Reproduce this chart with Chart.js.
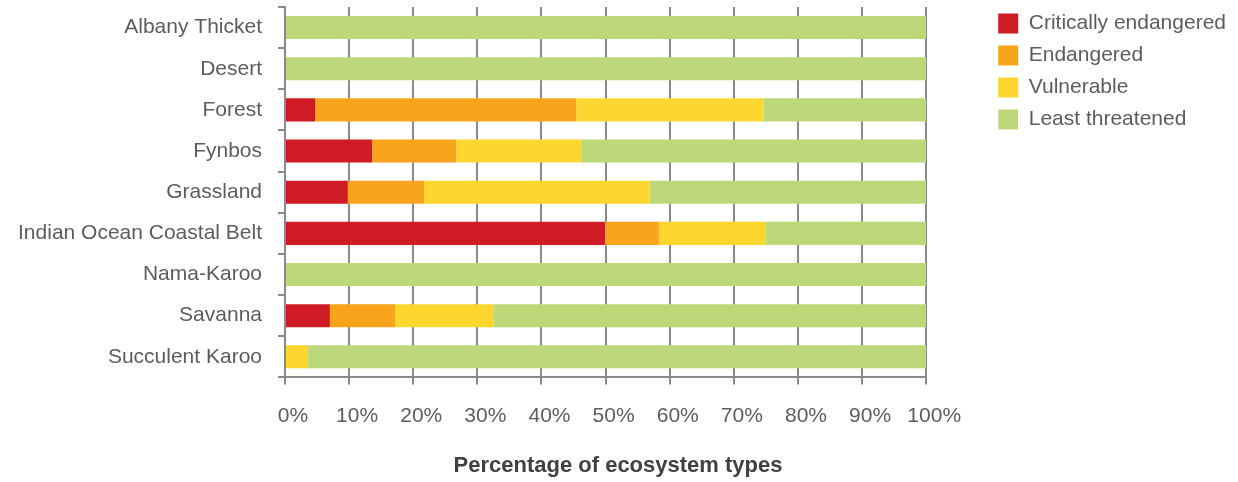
<!DOCTYPE html>
<html>
<head>
<meta charset="utf-8">
<script src="https://cdn.jsdelivr.net/npm/chart.js@4/dist/chart.umd.min.js"></script>
<style>
  html, body { margin: 0; padding: 0; background: #fff; }
  #wrap { width: 1238px; height: 482px; }
</style>
</head>
<body>
<div id="wrap"><canvas id="chart" width="1238" height="482"></canvas></div>
<script>
// biome categories
const biomes = [
  "Albany Thicket",
  "Desert",
  "Forest",
  "Fynbos",
  "Grassland",
  "Indian Ocean Coastal Belt",
  "Nama-Karoo",
  "Savanna",
  "Succulent Karoo",
];

// percentage of ecosystem types per threat status
const criticallyEndangered = [0, 0, 4.7, 13.6, 9.8, 49.9, 0, 7.0, 0];
const endangered = [0, 0, 40.7, 13.1, 11.9, 8.4, 0, 10.2, 0];
const vulnerable = [0, 0, 29.2, 19.6, 35.2, 16.6, 0, 15.4, 3.6];
const leastThreatened = [100, 100, 25.4, 53.7, 43.1, 25.1, 100, 67.4, 96.4];

const xTicks = [0, 10, 20, 30, 40, 50, 60, 70, 80, 90, 100];

const gridGrey = "#8a8a8c";
const textGrey = "#5c5c5e";
const fontFamily = "'Liberation Sans', Arial, sans-serif";

const chartData = {
  labels: biomes,
  datasets: [
    { label: "Critically endangered", data: criticallyEndangered, backgroundColor: "#cf1c24" },
    { label: "Endangered", data: endangered, backgroundColor: "#f8a51d" },
    { label: "Vulnerable", data: vulnerable, backgroundColor: "#fed630" },
    { label: "Least threatened", data: leastThreatened, backgroundColor: "#bcd878" },
  ],
};

const chartOptions = {
  indexAxis: "y",
  responsive: false,
  animation: false,
  layout: {
    padding: { top: 2, right: 2, bottom: 3, left: 0 },
  },
  datasets: {
    bar: {
      barPercentage: 0.56,
      categoryPercentage: 1,
      borderWidth: 0,
    },
  },
  scales: {
    x: {
      stacked: true,
      min: 0,
      max: 100,
      z: 1,
      afterBuildTicks: (scale) => {
        scale.ticks = xTicks.map((v) => ({ value: v }));
      },
      grid: {
        color: gridGrey,
        lineWidth: 2,
        tickLength: 7,
      },
      border: { color: gridGrey, width: 2 },
      ticks: {
        color: textGrey,
        padding: 19,
        labelOffset: 8,
        maxRotation: 0,
        font: { family: fontFamily, size: 21 },
        callback: (v) => v + "%",
      },
    },
    y: {
      stacked: true,
      offset: true,
      afterFit: (scale) => {
        scale.width = 285;
        scale.paddingTop = 7;
        scale.paddingBottom = 0;
      },
      grid: {
        offset: true,
        drawOnChartArea: false,
        color: gridGrey,
        lineWidth: 2,
        tickLength: 7,
      },
      border: { color: gridGrey, width: 2 },
      ticks: {
        color: textGrey,
        padding: 16,
        font: { family: fontFamily, size: 21 },
      },
    },
    // empty axis that keeps a gap between plot and legend
    gap: {
      type: "linear",
      position: "right",
      display: true,
      grid: { display: false },
      border: { display: false },
      ticks: { display: false },
      afterFit: (scale) => {
        scale.width = 61;
      },
    },
  },
  plugins: {
    title: {
      display: true,
      position: "bottom",
      text: "Percentage of ecosystem types",
      color: "#404042",
      padding: { top: 5, bottom: 0 },
      font: { family: fontFamily, size: 22, weight: "bold" },
    },
    legend: {
      position: "right",
      align: "start",
      maxWidth: 300,
      labels: {
        boxWidth: 20,
        boxHeight: 20,
        padding: 11,
        color: textGrey,
        font: { family: fontFamily, size: 21 },
      },
    },
    tooltip: { enabled: false },
  },
};

const chart = new Chart(document.getElementById("chart"), {
  type: "bar",
  data: chartData,
  options: chartOptions,
});
</script>
</body>
</html>
